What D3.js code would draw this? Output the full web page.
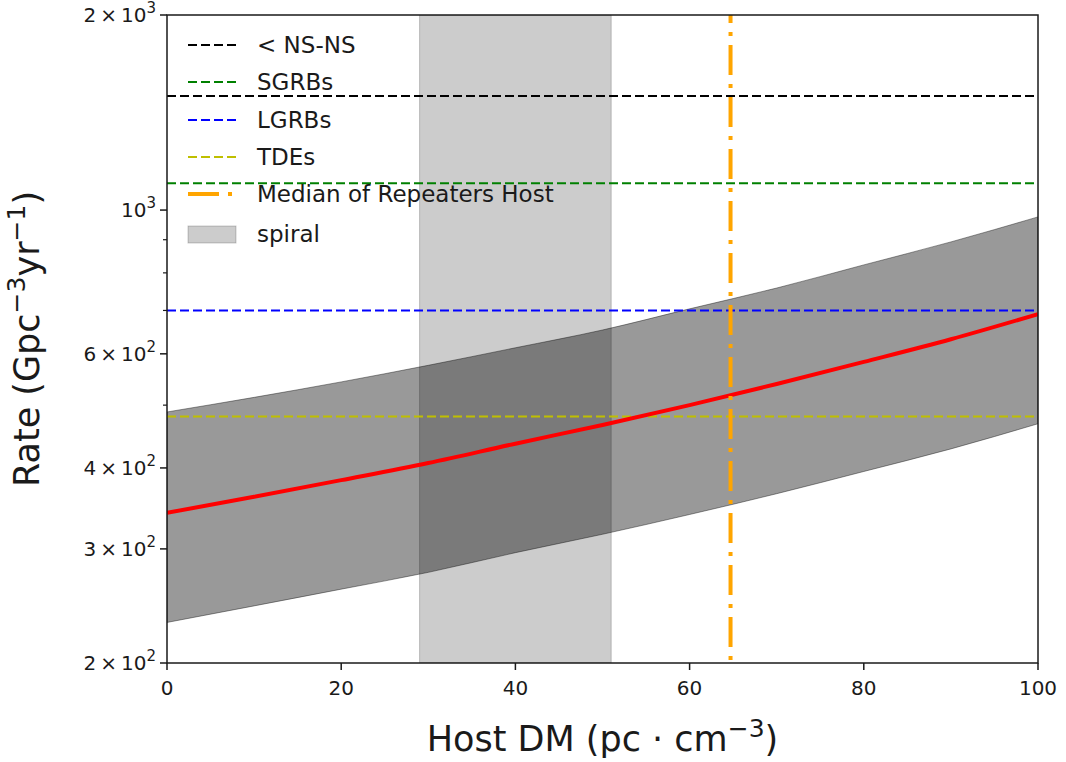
<!DOCTYPE html>
<html>
<head>
<meta charset="utf-8">
<script src="https://cdn.jsdelivr.net/npm/d3@7"></script>
<style>
  body { margin: 0; background: #fff; }
  text { font-family: "DejaVu Sans", sans-serif; fill: #1a1a1a; }
</style>
</head>
<body>
<script>
// host DM grid and fitted rate curve with its band
const hostDM = [0, 10, 20, 30, 40, 50, 60, 70, 80, 90, 100]
const rateMedian = [341, 361, 383, 407, 436, 466, 500, 539, 583, 632, 691]
const rateUpper = [488, 514, 543, 576, 613, 653, 704, 758, 823, 893, 976]
const rateLower = [231, 245, 260, 276, 296, 316, 339, 365, 395, 428, 468]

// reference rates of other transients
const refNames = ['< NS-NS', 'SGRBs', 'LGRBs', 'TDEs']
const refRates = [1500, 1100, 700, 480]
const refColors = ['#000000', '#008000', '#0000ff', '#bfbf00']

const spiralRange = [29, 51]
const medianRepeaters = 64.7

const xTicks = [0, 20, 40, 60, 80, 100]
const yLabelled = [
  { v: 200, m: '2', e: '2' },
  { v: 300, m: '3', e: '2' },
  { v: 400, m: '4', e: '2' },
  { v: 600, m: '6', e: '2' },
  { v: 1000, m: null, e: '3' },
  { v: 2000, m: '2', e: '3' }
]
const yMinor = [500, 700, 800, 900]

const W = 1066, H = 762
const pLeft = 167, pRight = 1038, pTop = 15, pBottom = 663

const svg = d3.select('body').append('svg')
  .attr('width', W)
  .attr('height', H)

const x = d3.scaleLinear().domain([0, 100]).range([pLeft, pRight])
const y = d3.scaleLog().domain([200, 2000]).range([pBottom, pTop])

const plot = svg.append('g')

plot.append('defs').append('clipPath').attr('id', 'clip')
  .append('rect').attr('x', pLeft).attr('y', pTop)
  .attr('width', pRight - pLeft).attr('height', pBottom - pTop)

const inner = plot.append('g').attr('clip-path', 'url(#clip)')

const rows = hostDM.map((d, i) => ({ d, lo: rateLower[i], hi: rateUpper[i], m: rateMedian[i] }))

// shaded band
inner.append('path')
  .datum(rows)
  .attr('d', d3.area().curve(d3.curveMonotoneX)
    .x(r => x(r.d)).y0(r => y(r.lo)).y1(r => y(r.hi)))
  .attr('fill', 'rgba(0,0,0,0.4)')
  .attr('stroke', 'rgba(0,0,0,0.4)')
  .attr('stroke-width', 1)

// spiral host range
inner.append('rect')
  .attr('x', x(spiralRange[0]))
  .attr('y', pTop)
  .attr('width', x(spiralRange[1]) - x(spiralRange[0]))
  .attr('height', pBottom - pTop)
  .attr('fill', 'rgba(0,0,0,0.2)')
  .attr('stroke', 'rgba(0,0,0,0.2)')

// horizontal reference lines
inner.selectAll('line.ref')
  .data(refRates)
  .enter().append('line')
  .classed('ref', true)
  .attr('x1', pLeft).attr('x2', pRight)
  .attr('y1', d => y(d)).attr('y2', d => y(d))
  .attr('stroke', (d, i) => refColors[i])
  .attr('stroke-width', 2)
  .attr('stroke-dasharray', '9,4')

// fitted curve
inner.append('path')
  .datum(rows)
  .attr('d', d3.line().curve(d3.curveMonotoneX).x(r => x(r.d)).y(r => y(r.m)))
  .attr('fill', 'none')
  .attr('stroke', '#ff0000')
  .attr('stroke-width', 4)

// median of repeaters host
inner.append('line')
  .attr('x1', x(medianRepeaters)).attr('x2', x(medianRepeaters))
  .attr('y1', pTop).attr('y2', pBottom)
  .attr('stroke', '#ffa500')
  .attr('stroke-width', 4)
  .attr('stroke-dasharray', '30,9,4,9')
  .attr('stroke-dashoffset', 22)

// frame
plot.append('rect')
  .attr('x', pLeft).attr('y', pTop)
  .attr('width', pRight - pLeft).attr('height', pBottom - pTop)
  .attr('fill', 'none').attr('stroke', '#1a1a1a').attr('stroke-width', 1.5)

// x axis
const xg = svg.append('g')
xg.selectAll('line').data(xTicks).enter().append('line')
  .attr('x1', d => x(d)).attr('x2', d => x(d))
  .attr('y1', pBottom).attr('y2', pBottom + 7)
  .attr('stroke', '#1a1a1a').attr('stroke-width', 1.5)
xg.selectAll('text').data(xTicks).enter().append('text')
  .attr('x', d => x(d)).attr('y', pBottom + 32)
  .attr('text-anchor', 'middle')
  .attr('font-size', 20)
  .text(d => d)

// y axis
const yg = svg.append('g')
yg.selectAll('line.major').data(yLabelled).enter().append('line')
  .attr('x1', pLeft - 7).attr('x2', pLeft)
  .attr('y1', d => y(d.v)).attr('y2', d => y(d.v))
  .attr('stroke', '#1a1a1a').attr('stroke-width', 1.5)
yg.selectAll('line.minor').data(yMinor).enter().append('line')
  .attr('x1', pLeft - 4).attr('x2', pLeft)
  .attr('y1', d => y(d)).attr('y2', d => y(d))
  .attr('stroke', '#1a1a1a').attr('stroke-width', 1.2)

const yt = yg.selectAll('text').data(yLabelled).enter().append('text')
  .attr('x', pLeft - 11).attr('y', d => y(d.v) + 7)
  .attr('text-anchor', 'end')
  .attr('font-size', 20)
yt.each(function (d) {
  const t = d3.select(this)
  t.append('tspan').text(d.m ? d.m + '\u2009\u00d7\u200910' : '10')
  t.append('tspan').attr('dy', -9).attr('font-size', 15).text(d.e)
})

// axis titles
const xl = svg.append('text')
  .attr('x', (pLeft + pRight) / 2).attr('y', 751)
  .attr('text-anchor', 'middle')
  .attr('font-size', 35)
xl.append('tspan').text('Host DM (pc \u00b7 cm')
xl.append('tspan').attr('dy', -14).attr('font-size', 25).text('\u22123')
xl.append('tspan').attr('dy', 14).text(')')

const yl = svg.append('text')
  .attr('transform', `translate(39,${(pTop + pBottom) / 2}) rotate(-90)`)
  .attr('text-anchor', 'middle')
  .attr('font-size', 35)
yl.append('tspan').text('Rate (Gpc')
yl.append('tspan').attr('dy', -14).attr('font-size', 25).text('\u22123')
yl.append('tspan').attr('dy', 14).text('yr')
yl.append('tspan').attr('dy', -14).attr('font-size', 25).text('\u22121')
yl.append('tspan').attr('dy', 14).text(')')

// legend
const leg = svg.append('g')
const legY = [45, 82, 120, 157, 194, 234]
refNames.forEach((name, i) => {
  leg.append('line')
    .attr('x1', 188).attr('x2', 236)
    .attr('y1', legY[i]).attr('y2', legY[i])
    .attr('stroke', refColors[i]).attr('stroke-width', 2)
    .attr('stroke-dasharray', '9,4')
  leg.append('text').attr('x', 257).attr('y', legY[i] + 8)
    .attr('font-size', 23).text(name)
})
leg.append('line')
  .attr('x1', 188).attr('x2', 236)
  .attr('y1', legY[4]).attr('y2', legY[4])
  .attr('stroke', '#ffa500').attr('stroke-width', 4)
  .attr('stroke-dasharray', '31,9,4,9')
leg.append('text').attr('x', 257).attr('y', legY[4] + 8)
  .attr('font-size', 23).text('Median of Repeaters Host')
leg.append('rect')
  .attr('x', 188).attr('y', legY[5] - 8).attr('width', 48).attr('height', 17)
  .attr('fill', 'rgba(0,0,0,0.2)').attr('stroke', 'rgba(0,0,0,0.2)')
leg.append('text').attr('x', 257).attr('y', legY[5] + 8)
  .attr('font-size', 23).text('spiral')
</script>
</body>
</html>
